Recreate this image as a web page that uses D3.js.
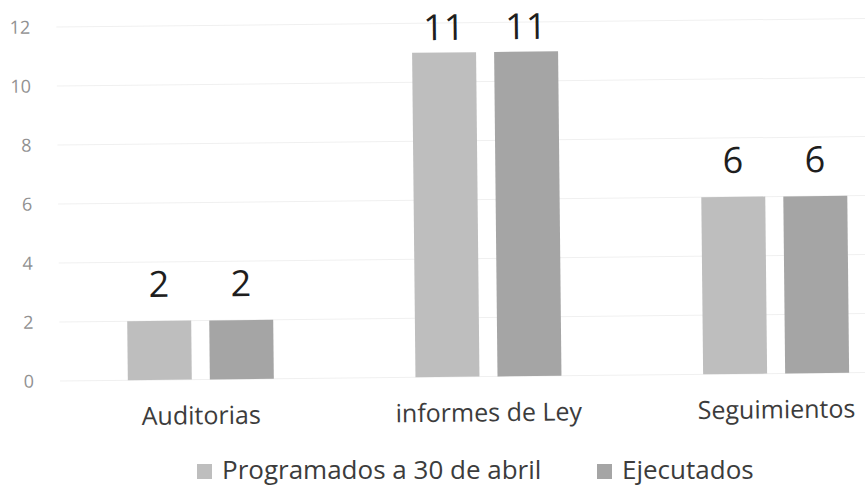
<!DOCTYPE html>
<html>
<head>
<meta charset="utf-8">
<script src="https://cdn.jsdelivr.net/npm/d3@7"></script>
<style>
  body { margin: 0; background: #fff; }
  svg { display: block; font-family: "Open Sans", sans-serif; }
</style>
</head>
<body>
<svg width="865" height="494"></svg>
<script>
const categories = ["Auditorias", "informes de Ley", "Seguimientos"];
const seriesNames = ["Programados a 30 de abril", "Ejecutados"];
const programados = [2, 11, 6];
const ejecutados = [2, 11, 6];
const yTicks = [0, 2, 4, 6, 8, 10, 12];
const colors = ["#bebebe", "#a5a5a5"];

const svg = d3.select("svg");

// the scanned original is tilted a little
const chart = svg.append("g").attr("transform", "rotate(-0.6, 60, 381)");

const x = d3.scaleBand().domain(categories).range([57, 920]);
const xs = d3.scaleBand().domain(seriesNames)
  .range([x.bandwidth() / 2 - 73, x.bandwidth() / 2 + 73]).paddingInner(0.22);
const y = d3.scaleLinear().domain([0, 12]).range([381, 27]);

// gridlines
chart.append("g")
  .selectAll("line").data(yTicks)
  .enter().append("line")
  .attr("x1", 60).attr("x2", 880)
  .attr("y1", d => y(d)).attr("y2", d => y(d))
  .attr("stroke", "#f0f0f0").attr("stroke-width", 1);

// y axis
const yAxis = chart.append("g")
  .attr("transform", "translate(34,0)")
  .call(d3.axisLeft(y).tickValues(yTicks).tickSize(0).tickPadding(0));
yAxis.select(".domain").remove();
yAxis.selectAll("text").attr("fill", "#919191")
  .style("font-size", "18px").style("font-family", "'Open Sans', sans-serif");

// x axis labels
const xAxis = chart.append("g")
  .attr("transform", "translate(0," + 381 + ")")
  .call(d3.axisBottom(x).tickSize(0).tickPadding(27));
xAxis.select(".domain").remove();
xAxis.selectAll("text").attr("fill", "#3c3c3c")
  .style("font-size", "25px").style("font-family", "'Open Sans', sans-serif");

const rows = categories.map((c, i) => ({ cat: c, vals: [programados[i], ejecutados[i]] }));

const groups = chart.append("g").selectAll("g").data(rows)
  .enter().append("g")
  .attr("transform", d => "translate(" + x(d.cat) + ",0)");

groups.selectAll("rect").data(d => d.vals.map((v, j) => ({ s: seriesNames[j], v: v, j: j })))
  .enter().append("rect")
  .attr("x", d => xs(d.s))
  .attr("width", xs.bandwidth())
  .attr("y", d => y(d.v))
  .attr("height", d => y(0) - y(d.v))
  .attr("fill", d => colors[d.j]);

// data labels, kept inside the plot area like the original
groups.selectAll("text.lbl").data(d => d.vals.map((v, j) => ({ s: seriesNames[j], v: v })))
  .enter().append("text")
  .attr("class", "lbl")
  .attr("x", d => xs(d.s) + xs.bandwidth() / 2)
  .attr("y", d => Math.max(y(d.v) - 24, 44))
  .attr("text-anchor", "middle")
  .attr("fill", "#1e1e1e")
  .style("font-size", "36px")
  .text(d => d.v);

// legend
const legendX = [197, 597];
const legend = svg.append("g").selectAll("g").data(seriesNames)
  .enter().append("g")
  .attr("transform", (d, i) => "translate(" + legendX[i] + ",479)");
legend.append("rect").attr("x", 0).attr("y", -15).attr("width", 15).attr("height", 15)
  .attr("fill", (d, i) => colors[i]);
legend.append("text").attr("x", 25).attr("y", 0)
  .attr("fill", "#3c3c3c").style("font-size", "26px")
  .text(d => d);
</script>
</body>
</html>
